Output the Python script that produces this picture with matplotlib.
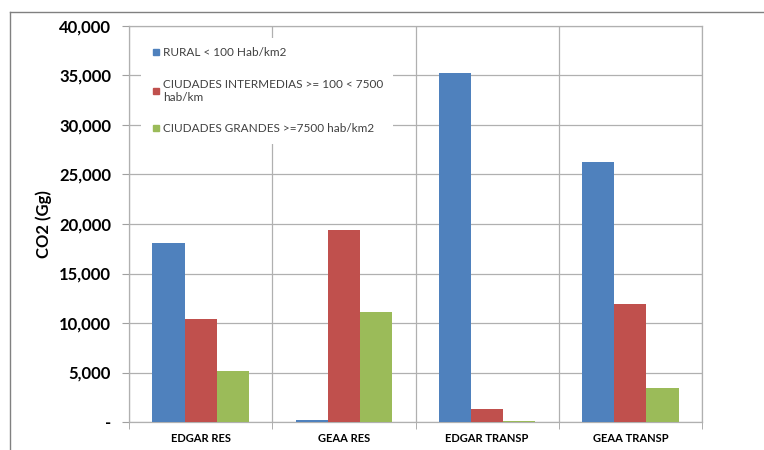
import numpy as np
import matplotlib.pyplot as plt
from matplotlib.lines import Line2D
from matplotlib.ticker import FuncFormatter

categories = ["EDGAR RES", "GEAA RES", "EDGAR TRANSP", "GEAA TRANSP"]
series_names = ["RURAL < 100 Hab/km2",
                "CIUDADES INTERMEDIAS >= 100 < 7500\nhab/km",
                "CIUDADES GRANDES >=7500 hab/km2"]
rural = [18100, 200, 35300, 26250]
intermedias = [10400, 19400, 1350, 11900]
grandes = [5200, 11100, 60, 3450]
colors = ["#4f81bd", "#c0504d", "#9bbb59"]

plt.rcParams['font.family'] = ['Lato', 'DejaVu Sans']

fig = plt.figure(figsize=(7.64, 4.5), dpi=100)
ax = fig.add_axes([129 / 764, 28 / 450, 573 / 764, 396 / 450])

x = np.arange(len(categories))
w = 0.224
for i, (vals, name) in enumerate(zip([rural, intermedias, grandes], series_names)):
    ax.bar(x + (i - 1) * w, vals, width=w, color=colors[i], label=name, zorder=3)

ax.set_xlim(-0.5, len(categories) - 0.5)
ax.set_ylim(0, 40000)
ax.set_yticks(np.arange(0, 40001, 5000))
ax.yaxis.set_major_formatter(FuncFormatter(lambda v, p: "-" if v == 0 else f"{int(v):,}"))
ax.set_xticks(x)
ax.set_xticklabels(categories, fontsize=8, fontweight='bold')
ax.set_xticks(np.arange(-0.5, len(categories), 1), minor=True)
ax.tick_params(axis='x', which='major', length=0, pad=8)
ax.tick_params(axis='x', which='minor', length=5, color='#a0a0a0')
ax.tick_params(axis='y', length=5, color='#a0a0a0', pad=8)
for lab in ax.get_yticklabels():
    lab.set_fontsize(12)
    lab.set_fontweight('bold')

ax.grid(axis='y', color='#b0b0b0', linewidth=0.9, zorder=0)
ax.grid(axis='x', which='minor', color='#b0b0b0', linewidth=0.9, zorder=0)
for s in ax.spines.values():
    s.set_color('#b0b0b0')
    s.set_linewidth(0.9)

ax.set_ylabel("CO2 (Gg)", fontsize=12, fontweight='bold')
ax.yaxis.set_label_coords(-0.134, 0.5)

handles = [Line2D([], [], marker='s', linestyle='none', markersize=5,
                  color=c) for c in colors]
leg = ax.legend(handles, series_names, loc='upper left',
                bbox_to_anchor=(0.01, 0.985), fontsize=8.5, frameon=True,
                fancybox=False, edgecolor='none', framealpha=1,
                labelspacing=1.75, handletextpad=0.1, handlelength=1.0,
                borderpad=0.8)
leg.set_zorder(5)
for t in leg.get_texts():
    t.set_color('#404040')

# outer frame
fig.add_artist(Line2D([10 / 764, 1], [1 - 12 / 450, 1 - 12 / 450],
                      transform=fig.transFigure, color='#808080', linewidth=1))
fig.add_artist(Line2D([10 / 764, 10 / 764], [0, 1 - 12 / 450],
                      transform=fig.transFigure, color='#808080', linewidth=1))

fig.savefig("out.png", dpi=100)
